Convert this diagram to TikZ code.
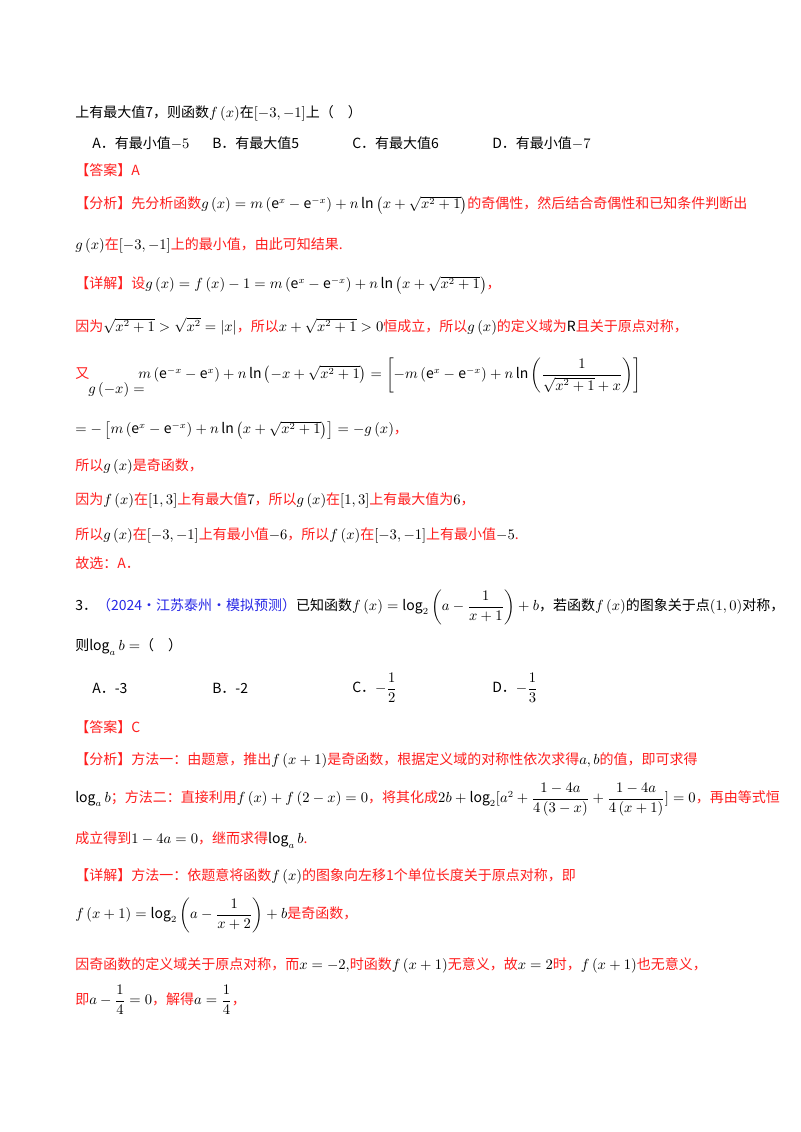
\documentclass[tikz,border=0pt]{standalone}
\usepackage{amsmath}
\usepackage{fontspec}
\setmainfont{Noto Sans CJK SC}
\definecolor{ansred}{RGB}{255,30,30}
\definecolor{srcblue}{RGB}{40,40,230}
\tikzset{
  ln/.style={anchor=west,inner sep=0pt,font=\fontsize{10.5pt}{12pt}\selectfont},
  rd/.style={ln,text=ansred},
  bk/.style={ln,text=black}
}
\begin{document}
\begin{tikzpicture}[x=0.75pt,y=-0.75pt]
\path[fill=white] (0,0) rectangle (800,1132);
\node[bk] (l1) at (75,113) {上有最大值7，则函数$f\left(x\right)$在$\left[-3,-1\right]$上（\quad）};
\node[bk] (o1a) at (92,143) {A．有最小值$-5$};
\node[bk] (o1b) at (212,143) {B．有最大值5};
\node[bk] (o1c) at (352,143) {C．有最大值6};
\node[bk] (o1d) at (492,143) {D．有最小值$-7$};
\node[rd] (ans1) at (75,170) {【答案】A};
\node[rd] (fx1) at (75,205) {【分析】先分析函数\textcolor{black}{$g\left(x\right)=m\left(\mathrm{e}^x-\mathrm{e}^{-x}\right)+n\ln\left(x+\sqrt{x^2+1}\right)$}的奇偶性，然后结合奇偶性和已知条件判断出};
\node[rd] (fx2) at (75,245) {\textcolor{black}{$g\left(x\right)$}在\textcolor{black}{$\left[-3,-1\right]$}上的最小值，由此可知结果.};
\node[rd] (xj1) at (75,285) {【详解】设\textcolor{black}{$g\left(x\right)=f\left(x\right)-1=m\left(\mathrm{e}^x-\mathrm{e}^{-x}\right)+n\ln\left(x+\sqrt{x^2+1}\right)$}，};
\node[rd] (xj2) at (75,326) {因为\textcolor{black}{$\sqrt{x^2+1}>\sqrt{x^2}=\left|x\right|$}，所以\textcolor{black}{$x+\sqrt{x^2+1}>0$}恒成立，所以\textcolor{black}{$g\left(x\right)$}的定义域为\textcolor{black}{$\mathrm{R}$}且关于原点对称，};
\node[rd] (xj3a) at (75,374) {又};
\node[bk] (xj3b) at (88,390) {$g\left(-x\right)=$};
\node[bk] (xj3c) at (138,375) {$m\left(\mathrm{e}^{-x}-\mathrm{e}^{x}\right)+n\ln\left(-x+\sqrt{x^2+1}\right)=\left[-m\left(\mathrm{e}^{x}-\mathrm{e}^{-x}\right)+n\ln\left(\dfrac{1}{\sqrt{x^2+1}+x}\right)\right]$};
\node[rd] (xj4) at (75,430) {\textcolor{black}{$=-\left[m\left(\mathrm{e}^{x}-\mathrm{e}^{-x}\right)+n\ln\left(x+\sqrt{x^2+1}\right)\right]=-g\left(x\right)$}，};
\node[rd] (xj5) at (75,466) {所以\textcolor{black}{$g\left(x\right)$}是奇函数，};
\node[rd] (xj6) at (75,500) {因为\textcolor{black}{$f\left(x\right)$}在\textcolor{black}{$\left[1,3\right]$}上有最大值\textcolor{black}{$7$}，所以\textcolor{black}{$g\left(x\right)$}在\textcolor{black}{$\left[1,3\right]$}上有最大值为\textcolor{black}{$6$}，};
\node[rd] (xj7) at (75,535) {所以\textcolor{black}{$g\left(x\right)$}在\textcolor{black}{$\left[-3,-1\right]$}上有最小值\textcolor{black}{$-6$}，所以\textcolor{black}{$f\left(x\right)$}在\textcolor{black}{$\left[-3,-1\right]$}上有最小值\textcolor{black}{$-5$}.};
\node[rd] (xj8) at (75,563) {故选：A．};
\node[bk] (q3) at (75,607) {3．\textcolor{srcblue}{（2024·江苏泰州·模拟预测）}已知函数$f\left(x\right)=\log_2\left(a-\dfrac{1}{x+1}\right)+b$，若函数$f\left(x\right)$的图象关于点$\left(1,0\right)$对称，};
\node[bk] (q3b) at (75,647) {则$\log_a b=$（\quad）};
\node[bk] (o2a) at (92,688) {A．-3};
\node[bk] (o2b) at (212,688) {B．-2};
\node[bk] (o2c) at (352,688) {C．$-\dfrac{1}{2}$};
\node[bk] (o2d) at (492,688) {D．$-\dfrac{1}{3}$};
\node[rd] (ans2) at (75,727) {【答案】C};
\node[rd] (f21) at (75,760) {【分析】方法一：由题意，推出\textcolor{black}{$f\left(x+1\right)$}是奇函数，根据定义域的对称性依次求得\textcolor{black}{$a,b$}的值，即可求得};
\node[rd] (f22) at (75,800) {\textcolor{black}{$\log_a b$}；方法二：直接利用\textcolor{black}{$f\left(x\right)+f\left(2-x\right)=0$}，将其化成\textcolor{black}{$2b+\log_2[a^2+\dfrac{1-4a}{4\left(3-x\right)}+\dfrac{1-4a}{4\left(x+1\right)}]=0$}，再由等式恒};
\node[rd] (f23) at (75,840) {成立得到\textcolor{black}{$1-4a=0$}，继而求得\textcolor{black}{$\log_a b$}.};
\node[rd] (x21) at (75,876) {【详解】方法一：依题意将函数\textcolor{black}{$f\left(x\right)$}的图象向左移1个单位长度关于原点对称，即};
\node[rd] (x22) at (75,915) {\textcolor{black}{$f\left(x+1\right)=\log_2\left(a-\dfrac{1}{x+2}\right)+b$}是奇函数，};
\node[rd] (x23) at (75,965) {因奇函数的定义域关于原点对称，而\textcolor{black}{$x=-2,$}时函数\textcolor{black}{$f\left(x+1\right)$}无意义，故\textcolor{black}{$x=2$}时，\textcolor{black}{$f\left(x+1\right)$}也无意义，};
\node[rd] (x24) at (75,1000) {即\textcolor{black}{$a-\dfrac{1}{4}=0$}，解得\textcolor{black}{$a=\dfrac{1}{4}$}，};
\end{tikzpicture}
\end{document}
